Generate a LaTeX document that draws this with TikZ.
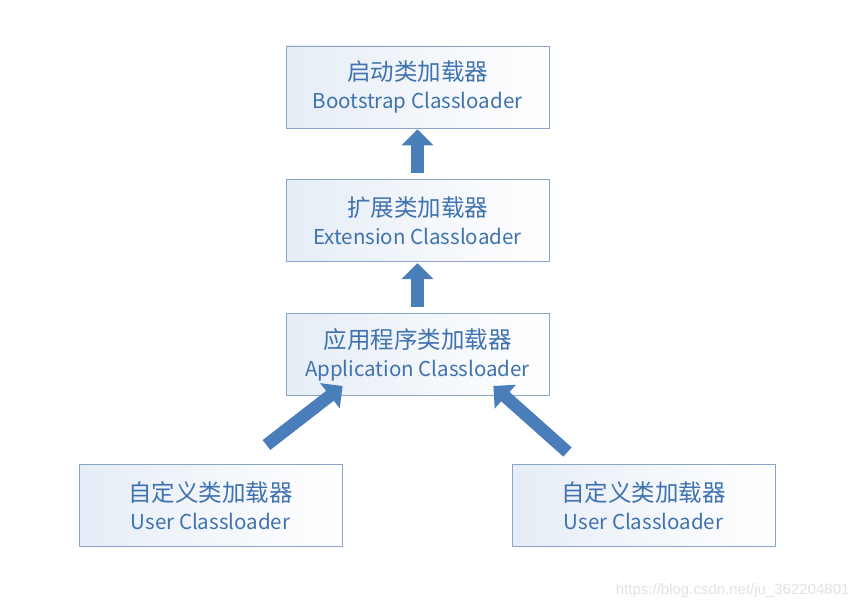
\documentclass[tikz,border=0pt]{standalone}
\usepackage{fontspec}
\setmainfont{Noto Sans CJK SC}
\newfontfamily\wmfont{Liberation Sans}
\usetikzlibrary{arrows.meta,positioning}
\definecolor{cltext}{HTML}{3F72AF}
\definecolor{clline}{HTML}{8AA6C6}
\definecolor{clfill}{HTML}{E6EDF6}
\definecolor{clarrow}{HTML}{4A7EBB}
\definecolor{wmgray}{HTML}{E2E2E2}

\tikzset{
  loaderbox/.style={draw=clline, line width=0.8pt, left color=clfill, right color=white,
    minimum width=263pt, minimum height=82pt, inner sep=0pt, align=center, text=cltext},
  bigarrow/.style={draw=clarrow, line width=12.5pt,
    -{Triangle[width=31pt,length=16pt]}},
}
\newcommand{\cnline}[1]{{\fontsize{23.5}{26}\selectfont #1}}
\newcommand{\enline}[1]{{\fontsize{20.5}{24}\selectfont #1}}

\begin{document}
\begin{tikzpicture}[x=1pt, y=-1pt, node distance=51pt]
  \useasboundingbox (0,0) rectangle (860,612);

  \node[loaderbox] (boot) at (417.5,87) {\cnline{启动类加载器}\\[9pt]\enline{Bootstrap Classloader}};
  \node[loaderbox, below=of boot] (ext) {\cnline{扩展类加载器}\\[9pt]\enline{Extension Classloader}};
  \node[loaderbox, below=of ext] (app) {\cnline{应用程序类加载器}\\[9pt]\enline{Application Classloader}};
  \node[loaderbox, below=68pt of app, xshift=-207pt] (userl) {\cnline{自定义类加载器}\\[9pt]\enline{User Classloader}};
  \node[loaderbox, below=68pt of app, xshift=226pt] (userr) {\cnline{自定义类加载器}\\[9pt]\enline{User Classloader}};

  % block arrows
  \draw[bigarrow, shorten <=6pt, shorten >=1pt] (ext.north) -- (boot.south);
  \draw[bigarrow, shorten <=6pt, shorten >=1pt] (app.north) -- (ext.south);
  \coordinate (ltail) at ([xshift=56pt, yshift=19pt]userl.north);
  \coordinate (ltip) at ([xshift=57pt, yshift=10pt]app.south west);
  \draw[bigarrow] (ltail) -- (ltip);
  \coordinate (rtail) at ([xshift=-76pt, yshift=12pt]userr.north);
  \coordinate (rtip) at ([xshift=-56pt, yshift=10pt]app.south east);
  \draw[bigarrow] (rtail) -- (rtip);

  \node[anchor=east, text=wmgray, font=\wmfont\fontsize{15}{18}\selectfont] (mark) at (853,591) {https://blog.csdn.net/ju\_362204801};
\end{tikzpicture}
\end{document}
